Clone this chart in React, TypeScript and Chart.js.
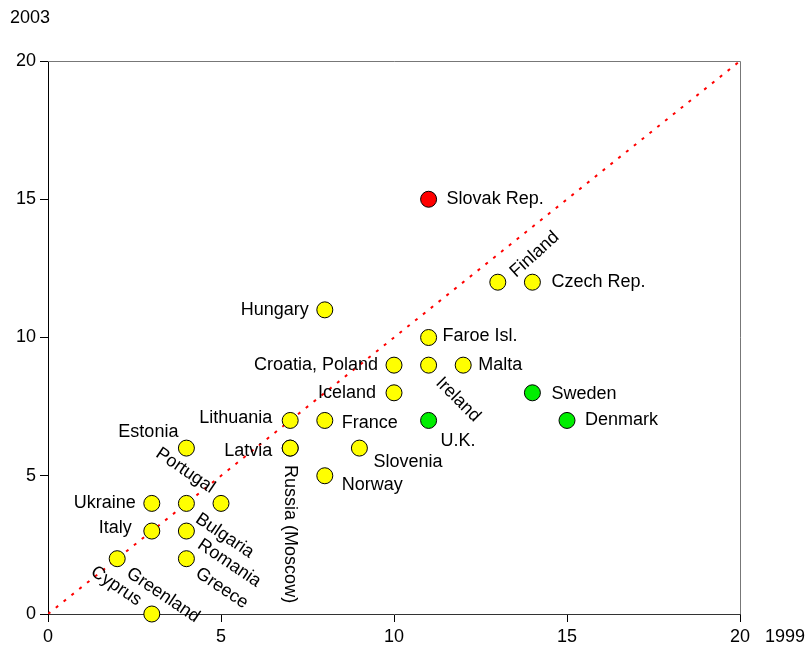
import React, { useEffect, useRef } from "react";
import { Chart, registerables } from "chart.js";

Chart.register(...registerables);

const countries = [
  "Slovak Rep.", "Finland", "Czech Rep.", "Hungary", "Faroe Isl.", "Croatia, Poland",
  "Ireland", "Malta", "Iceland", "Sweden", "Denmark", "U.K.", "Lithuania", "France",
  "Latvia", "Russia (Moscow)", "Slovenia", "Estonia", "Norway", "Ukraine", "Portugal",
  "Bulgaria", "Italy", "Romania", "Greenland", "Greece", "Cyprus",
];
const x1999 = [11, 13, 14, 8, 11, 10, 11, 12, 10, 14, 15, 11, 7, 8, 7, 7, 9, 4, 8, 3, 5, 4, 3, 4, 2, 4, 3];
const y2003 = [15, 12, 12, 11, 10, 9, 9, 9, 8, 8, 7, 7, 7, 7, 6, 6, 6, 6, 5, 4, 4, 4, 3, 3, 2, 2, 0];
const status = [
  "red", "yellow", "yellow", "yellow", "yellow", "yellow", "yellow", "yellow", "yellow",
  "green", "green", "green", "yellow", "yellow", "yellow", "yellow", "yellow", "yellow",
  "yellow", "yellow", "yellow", "yellow", "yellow", "yellow", "yellow", "yellow", "yellow",
];
const xTicks = [0, 5, 10, 15, 20];
const yTicks = [0, 5, 10, 15, 20];
const xTitle = "1999";
const yTitle = "2003";

// label placement (style): [dx, dy, angleDeg, align]
const labelPlacement: [number, number, number, "left" | "right"][] = [
  [18, 0, 0, "left"],     // Slovak
  [15, -8, -42, "left"],  // Finland
  [19, 0, 0, "left"],     // Czech
  [-16, 0, 0, "right"],   // Hungary
  [14, -1, 0, "left"],    // Faroe
  [-16, 0, 0, "right"],   // Croatia
  [10, 15, 45, "left"],   // Ireland
  [15, 0, 0, "left"],     // Malta
  [-18, 0, 0, "right"],   // Iceland
  [19, 1, 0, "left"],     // Sweden
  [18, 0, 0, "left"],     // Denmark
  [12, 21, 0, "left"],    // U.K.
  [-18, -2, 0, "right"],  // Lithuania
  [17, 3, 0, "left"],     // France
  [-18, 3, 0, "right"],   // Latvia
  [0, 17, 90, "left"],    // Russia
  [14, 14, 0, "left"],    // Slovenia
  [-8, -16, 0, "right"],  // Estonia
  [17, 9, 0, "left"],     // Norway
  [-16, 0, 0, "right"],   // Ukraine
  [-8, -14, 34, "right"], // Portugal
  [11, 14, 34, "left"],   // Bulgaria
  [-20, -3, 0, "right"],  // Italy
  [13, 12, 34, "left"],   // Romania
  [11, 13, 34, "left"],   // Greenland
  [11, 13, 34, "left"],   // Greece
  [-12, -12, 34, "right"],// Cyprus
];

const colorMap: Record<string, string> = { red: "#ff0000", yellow: "#ffff00", green: "#00ee00" };
const FONT = "Liberation Sans, Arial, Helvetica, sans-serif";

const labelPlugin = {
  id: "pointLabels",
  afterDatasetsDraw(chart: any) {
    const ctx = chart.ctx;
    const meta = chart.getDatasetMeta(1);
    ctx.save();
    ctx.fillStyle = "#000";
    ctx.font = `18px ${FONT}`;
    ctx.textBaseline = "middle";
    meta.data.forEach((el: any, i: number) => {
      const [dx, dy, ang, align] = labelPlacement[i];
      ctx.save();
      ctx.translate(el.x + dx, el.y + dy);
      ctx.rotate((ang * Math.PI) / 180);
      ctx.textAlign = align;
      ctx.fillText(countries[i], 0, 0);
      ctx.restore();
    });
    ctx.restore();
  },
  beforeDatasetsDraw(chart: any) {
    const { ctx, chartArea } = chart;
    ctx.save();
    ctx.strokeStyle = "#777";
    ctx.lineWidth = 1;
    ctx.beginPath();
    ctx.moveTo(chartArea.left, chartArea.top + 0.5);
    ctx.lineTo(chartArea.right + 0.5, chartArea.top + 0.5);
    ctx.lineTo(chartArea.right + 0.5, chartArea.bottom);
    ctx.stroke();
    ctx.fillStyle = "#000";
    ctx.font = `18px ${FONT}`;
    ctx.textBaseline = "middle";
    ctx.textAlign = "left";
    ctx.fillText(yTitle, 10, 18);
    ctx.fillText(xTitle, 765, 637);
    ctx.restore();
  },
};

export default function App() {
  const ref = useRef<HTMLCanvasElement>(null);
  useEffect(() => {
    if (!ref.current) return;
    const chart = new Chart(ref.current, {
      type: "scatter",
      data: {
        datasets: [
          {
            type: "line",
            data: [
              { x: 0, y: 0 },
              { x: 20, y: 20 },
            ],
            borderColor: "#ff0000",
            borderWidth: 2,
            borderDash: [3, 7],
            pointRadius: 0,
            order: 2,
          } as any,
          {
            data: x1999.map((x, i) => ({ x, y: y2003[i] })),
            pointRadius: 8,
            pointHoverRadius: 8,
            pointBackgroundColor: status.map((s) => colorMap[s]),
            pointBorderColor: "#000",
            pointBorderWidth: 1,
            clip: false as any,
            order: 1,
          },
        ],
      },
      options: {
        animation: false,
        responsive: true,
        maintainAspectRatio: false,
        layout: { padding: { top: 61, right: 69, left: 0, bottom: 0 } },
        plugins: { legend: { display: false }, tooltip: { enabled: false } },
        scales: {
          x: {
            type: "linear",
            min: 0,
            max: 20,
            afterFit: (s: any) => { s.height = 32; },
            afterBuildTicks: (s: any) => { s.ticks = xTicks.map((v) => ({ value: v })); },
            ticks: { font: { size: 18, family: FONT }, color: "#000", padding: 4, maxRotation: 0 },
            grid: { drawOnChartArea: false, drawTicks: true, tickLength: 8, color: "#000" },
            border: { color: "#333" },
          },
          y: {
            type: "linear",
            min: 0,
            max: 20,
            afterFit: (s: any) => { s.width = 48; },
            afterBuildTicks: (s: any) => { s.ticks = yTicks.map((v) => ({ value: v })); },
            ticks: { font: { size: 18, family: FONT }, color: "#000", padding: 4 },
            grid: { drawOnChartArea: false, drawTicks: true, tickLength: 8, color: "#000" },
            border: { color: "#000" },
          },
        },
      },
      plugins: [labelPlugin],
    });
    return () => chart.destroy();
  }, []);
  return (
    <div style={{ position: "fixed", left: 0, top: 0, width: 809, height: 646, background: "#fff" }}>
      <canvas ref={ref} />
    </div>
  );
}
